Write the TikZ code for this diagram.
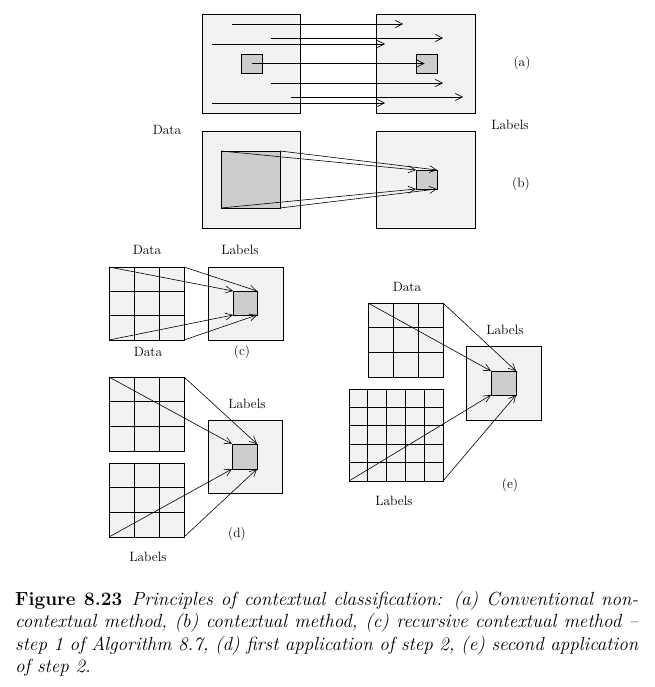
\documentclass[tikz,border=0pt]{standalone}
\usepackage{tikz}
\usetikzlibrary{calc,arrows.meta}
\definecolor{panelgray}{gray}{0.95}
\definecolor{markgray}{gray}{0.8}

\begin{document}
\begin{tikzpicture}[x=1pt,y=-1pt,
  panel/.style={draw,fill=panelgray,line width=0.9pt,inner sep=0pt,outer sep=0pt},
  markbox/.style={draw,fill=markgray,line width=0.9pt,inner sep=0pt,outer sep=0pt},
  cell/.style={line width=0.9pt},
  arr/.style={-{Straight Barb[length=7pt,width=7pt]},line width=0.6pt},
  lbl/.style={font=\fontsize{13.5}{15}\selectfont}]
  \useasboundingbox (0,0) rectangle (654,687);
  % (a)
  \node[panel,minimum width=98pt,minimum height=99pt] (dataA) at (251,63.5) {};
  \node[panel,minimum width=99pt,minimum height=99pt] (labA) at (425.5,63.5) {};
  \node[markbox,minimum width=21pt,minimum height=19pt] (gA1) at (251.5,63.5) {};
  \node[markbox,minimum width=21pt,minimum height=19pt] (gA2) at (426.5,63.5) {};
  \foreach \n/\y/\xs/\xe in {1/24/232/403,2/38/271/443,3/44/212/385,4/83/271/443,5/97/291/463,6/103/212/385}{
    \coordinate (sA\n) at (\xs,\y);
    \coordinate (tA\n) at (\xe,\y);
    \draw[arr] (sA\n) -- (tA\n);
  }
  \draw[arr] (gA1.center) -- ($(gA2.center)+(-2,0)$);
  \node[lbl] (capA) at (522,63) {(a)};
  % (b)
  \node[panel,minimum width=98pt,minimum height=97pt] (dataB) at (251,179.5) {};
  \node[panel,minimum width=99pt,minimum height=97pt] (labB) at (425.5,179.5) {};
  \node[markbox,minimum width=59pt,minimum height=57pt] (gB1) at (250.5,179.5) {};
  \node[markbox,minimum width=21pt,minimum height=19pt] (gB2) at (426.5,179.5) {};
  \foreach \c in {north west,north east,south west,south east}
    \draw[arr] (gB1.\c) -- (gB2.\c);
  \node[lbl] (dataTxtB) at (167,130) {Data};
  \node[lbl] (labTxtB) at (510,125) {Labels};
  \node[lbl] (capB) at (521,184) {(b)};
  % (c)
  \node[panel,minimum width=75pt,minimum height=73pt] (cC) at (146.5,303.5) {};
  \node[panel,minimum width=75pt,minimum height=73pt] (labC) at (245.5,303.5) {};
  \node[markbox,minimum width=24pt,minimum height=24pt] (gC) at (245,303) {};
  % (d)
  \node[panel,minimum width=75pt,minimum height=74pt] (dT) at (146.5,414) {};
  \node[panel,minimum width=75pt,minimum height=74pt] (dL) at (146.5,500) {};
  \node[panel,minimum width=74pt,minimum height=73pt] (labD) at (245,456.5) {};
  \node[markbox,minimum width=25pt,minimum height=25pt] (gD) at (244.5,456.5) {};
  % (e)
  \node[panel,minimum width=75pt,minimum height=74pt] (eT) at (405.5,340) {};
  \node[panel,minimum width=94pt,minimum height=92pt] (eL) at (396,435) {};
  \node[panel,minimum width=75pt,minimum height=74pt] (labE) at (503.5,383) {};
  \node[markbox,minimum width=25pt,minimum height=24pt] (gE) at (503.5,383) {};
  \foreach \g/\k in {cC/3,dT/3,dL/3,eT/3,eL/5}{
    \pgfmathtruncatemacro\m{\k-1}
    \foreach \i in {1,...,\m}{
      \draw[cell] ($(\g.north west)!\i/\k!(\g.north east)$) -- ($(\g.south west)!\i/\k!(\g.south east)$);
      \draw[cell] ($(\g.north west)!\i/\k!(\g.south west)$) -- ($(\g.north east)!\i/\k!(\g.south east)$);
    }
  }
  \foreach \c in {north west,north east,south west,south east}
    \draw[arr] (cC.\c) -- (gC.\c);
  \draw[arr] (dT.north west) -- (gD.north west);
  \draw[arr] (dT.north east) -- (gD.north east);
  \draw[arr] (dL.south west) -- (gD.south west);
  \draw[arr] (dL.south east) -- (gD.south east);
  \draw[arr] (eT.north west) -- (gE.north west);
  \draw[arr] (eT.north east) -- (gE.north east);
  \draw[arr] (eL.south west) -- (gE.south west);
  \draw[arr] (eL.south east) -- (gE.south east);
  \node[lbl] (dataTxtC) at (147,250) {Data};
  \node[lbl] (labTxtC) at (240,250) {Labels};
  \node[lbl] (dataTxtC2) at (148,352) {Data};
  \node[lbl] (capC) at (242,352) {(c)};
  \node[lbl] (labTxtD) at (247,404) {Labels};
  \node[lbl] (capD) at (237,534) {(d)};
  \node[lbl] (labTxtD2) at (148,557) {Labels};
  \node[lbl] (dataTxtE) at (407,287) {Data};
  \node[lbl] (labTxtE) at (505,330) {Labels};
  \node[lbl] (labTxtE2) at (394,501) {Labels};
  \node[lbl] (capE) at (510,485) {(e)};
  % caption
  \node[anchor=north west,inner sep=0pt,text width=623pt,align=justify,
        font=\fontsize{19}{22.3}\selectfont] (caption) at (15,591)
    {\textbf{Figure 8.23}\enspace\textit{Principles of contextual classification: (a) Conventional non-\linebreak
     contextual method, (b) contextual method, (c) recursive contextual method --\linebreak
     step 1 of Algorithm 8.7, (d) first application of step 2, (e) second application\linebreak
     of step 2.}};
\end{tikzpicture}
\end{document}
